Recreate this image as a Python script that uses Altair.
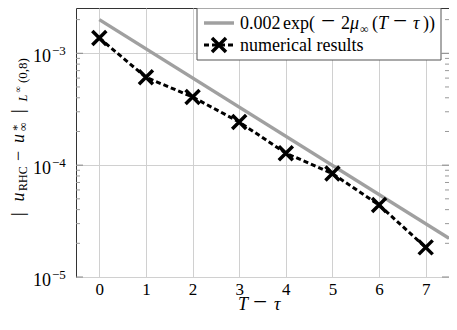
import altair as alt
import pandas as pd

FONT = "'Liberation Serif', 'Times New Roman', 'DejaVu Serif', serif"

# data
x_num = [0, 1, 2, 3, 4, 5, 6, 7]
y_num = [1.37e-3, 6.1e-4, 4.07e-4, 2.43e-4, 1.28e-4, 8.4e-5, 4.4e-5, 1.84e-5]
x_ref = [0, 7.5]
y_ref = [2.0e-3, 2.22e-5]
x_ticks = [0, 1, 2, 3, 4, 5, 6, 7]
y_major = [1e-5, 1e-4, 1e-3]
y_exp = ["\u22125", "\u22124", "\u22123"]
y_minor = [m * d for d in (1e-5, 1e-4) for m in range(2, 10)] + [2e-3]

OX, OY = 76, 8  # page position of the plot's top-left corner
W, H = 373, 269

xs = alt.Scale(domain=[-0.5, 7.5], nice=False, zero=False)
ys = alt.Scale(type="log", domain=[1e-5, 2.54e-3], nice=False)

X = alt.X("x:Q", scale=xs, axis=alt.Axis(values=x_ticks, grid=True, ticks=False, domain=False,
                                          labelFont=FONT, labelFontSize=17, labelColor="black",
                                          labelPadding=4, title=None, format="d"))
Y = alt.Y("y:Q", scale=ys, axis=alt.Axis(values=y_major, grid=True, labels=False, ticks=False,
                                          domain=False, title=None))

df_ref = pd.DataFrame({"x": x_ref, "y": y_ref})
df_num = pd.DataFrame({"x": x_num, "y": y_num})
df_minor = pd.DataFrame({"y": y_minor})
df_major = pd.DataFrame({"y": y_major, "e": y_exp})

XSHAPE = "M-1,-1L1,1M-1,1L1,-1"

ref_line = alt.Chart(df_ref).mark_line(color="#a0a0a0", strokeWidth=3.5).encode(x=X, y=Y)
num_line = alt.Chart(df_num).mark_line(color="black", strokeWidth=3, strokeDash=[5, 3]).encode(x=X, y=Y)
num_pts = alt.Chart(df_num).mark_point(shape=XSHAPE, size=196, filled=False, color="black",
                                       strokeWidth=3.5, opacity=1).encode(x=X, y=Y)

minor_l = alt.Chart(df_minor).mark_rule(color="#999", strokeWidth=1).encode(
    y=Y, x=alt.value(0), x2=alt.value(4))
minor_r = alt.Chart(df_minor).mark_rule(color="#999", strokeWidth=1).encode(
    y=Y, x=alt.value(W - 4), x2=alt.value(W))
major_l = alt.Chart(df_major).mark_rule(color="#888", strokeWidth=1).encode(
    y=Y, x=alt.value(0), x2=alt.value(7))
major_r = alt.Chart(df_major).mark_rule(color="#888", strokeWidth=1).encode(
    y=Y, x=alt.value(W - 7), x2=alt.value(W))

lab10 = alt.Chart(df_major).mark_text(text="10", align="right", baseline="alphabetic", font=FONT,
                                      fontSize=18, color="black", dy=9).encode(y=Y, x=alt.value(-25))
labexp = alt.Chart(df_major).mark_text(align="left", baseline="alphabetic", font=FONT,
                                       fontSize=13, color="black", dy=2).encode(
    y=Y, x=alt.value(-24), text="e:N")

one = pd.DataFrame({"a": [0]})


def piece(text, x, y, size, italic=False, angle=0):
    # x, y given in page coordinates
    return alt.Chart(one).mark_text(text=text, align="left", baseline="alphabetic", font=FONT,
                                    fontSize=size, fontStyle="italic" if italic else "normal",
                                    angle=angle, color="black").encode(
        x=alt.value(x - OX), y=alt.value(y - OY))


# y title pieces (rotated)
ytitle = [
    piece("|", 24, 216, 18, angle=270),
    piece("u", 24, 201.5, 18, True, angle=270),
    piece("RHC", 27, 191, 12, angle=270),
    piece("\u2212", 24, 161, 18, angle=270),
    piece("u", 24, 143, 18, True, angle=270),
    piece("*", 21, 131, 13, angle=270),
    piece("\u221e", 27, 131, 12, angle=270),
    piece("|", 24, 113, 18, angle=270),
    piece("L", 27, 101.5, 12.5, True, angle=270),
    piece("\u221e", 21, 92.5, 9, angle=270),
    piece("(0,8)", 27, 83, 13, angle=270),
]

# x title pieces
xtitle = [
    piece("T", 238, 310, 18, True),
    piece("\u2212", 253, 310, 25),
    piece("\u03c4", 274, 310, 18, True),
]

# legend (page coords, shifted to sit 8px inside the plot's right edge)
LX = -7
legend_box = alt.Chart(one).mark_rect(fill="white", stroke="#555", strokeWidth=1).encode(
    x=alt.value(204 + LX - OX), x2=alt.value(448 + LX - OX), y=alt.value(6 - OY + 2), y2=alt.value(58 - OY + 2))
leg_ref = alt.Chart(one).mark_rule(color="#a0a0a0", strokeWidth=3.5).encode(
    x=alt.value(211 + LX - OX), x2=alt.value(241 + LX - OX), y=alt.value(21 - OY + 2))
leg_num = alt.Chart(one).mark_rule(color="black", strokeWidth=3, strokeDash=[5, 3]).encode(
    x=alt.value(211 + LX - OX), x2=alt.value(241 + LX - OX), y=alt.value(43 - OY + 2))
leg_pt = alt.Chart(one).mark_point(shape=XSHAPE, size=196, filled=False, color="black",
                                   strokeWidth=3.5, opacity=1).encode(
    x=alt.value(226 + LX - OX), y=alt.value(43 - OY + 2))
legend_text = [
    piece("0.002", 247 + LX, 29, 18),
    piece("exp(", 290 + LX, 29, 18),
    piece("\u2212", 328 + LX, 29, 25),
    piece("2", 348 + LX, 29, 18),
    piece("\u03bc", 357 + LX, 29, 18, True),
    piece("\u221e", 367 + LX, 32.5, 12),
    piece("(", 379 + LX, 29, 18),
    piece("T", 385 + LX, 29, 18, True),
    piece("\u2212", 400 + LX, 29, 25),
    piece("\u03c4", 420 + LX, 29, 18, True),
    piece("))", 430 + LX, 29, 18),
    piece("numerical results", 247 + LX, 51, 18),
]

layers = [ref_line, minor_l, minor_r, major_l, major_r, num_line, num_pts, lab10, labexp] + ytitle + xtitle + \
         [legend_box, leg_ref, leg_num, leg_pt] + legend_text

chart = alt.layer(*layers).properties(
    width=W, height=H,
    padding={"left": OX - 8, "top": 0, "right": 0, "bottom": 40},
    autosize=alt.AutoSizeParams(type="none"),
).configure_view(stroke="#333", strokeWidth=1).configure_axis(gridColor="#d0d0d0", gridWidth=1)

chart.save("out.html", embed_options={"renderer": "svg", "actions": False})
